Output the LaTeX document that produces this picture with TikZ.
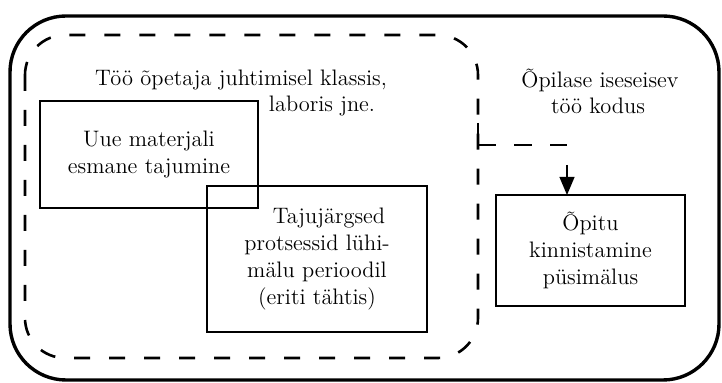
\documentclass[tikz,border=0pt]{standalone}
\usetikzlibrary{arrows}

\begin{document}
\begin{tikzpicture}[
x=0.5pt, y=-0.5pt,
font=\fontsize{11.2}{13.6}\selectfont,
  frame/.style = {draw, line width=1.7pt, rounded corners=28pt},% outer frame
   zone/.style = {draw, line width=1.3pt, rounded corners=20pt,
                  dash pattern=on 8pt off 9.5pt},% dashed zone of class work
  dashy/.style = {draw, line width=1.3pt,
                  dash pattern=on 20pt off 9pt on 9pt off 9pt on 9pt off 9pt},
    box/.style = {rectangle, draw, line width=1.1pt, inner sep=0pt,
                  outer sep=0pt, align=center},
    txt/.style = {inner sep=0pt, align=center},
                        ]
\useasboundingbox (0,0) rectangle (722,383);
\draw[frame] (10,16) rectangle (719,380);
\draw[zone]  (25,35) rectangle (478,358);
% boxes
\node[box, minimum width=109pt, minimum height=53.5pt] (uue)   at (149,154.5)
     {Uue materjali\\esmane tajumine};
\node[box, minimum width=110pt, minimum height=73pt]   (taju)  at (317,259)
     {\hspace*{12pt}Tajujärgsed\\protsessid lühi-\\mälu perioodil\\(eriti tähtis)};
\node[box, minimum width=94.5pt, minimum height=55.5pt] (opitu) at (590.5,250.5)
     {Õpitu\\kinnistamine\\püsimälus};
% labels
\node[txt] (klass) at (241,80)  {Töö õpetaja juhtimisel klassis,};
\node[txt] (labor) at (322,106) {laboris jne.};
\node[txt] (opil)  at (600,80)  {Õpilase iseseisev};
\node[txt] (kodus) at (598,106) {töö kodus};
% connector
\coordinate (kink) at (478,145);
\coordinate (turn) at (567,145);
\coordinate (drop) at (567,165);
\draw[dashy] (478,123) -- (kink) -- (turn);
\draw[line width=1.1pt, -triangle 45] (drop) -- (drop |- opitu.north);
\end{tikzpicture}
\end{document}
